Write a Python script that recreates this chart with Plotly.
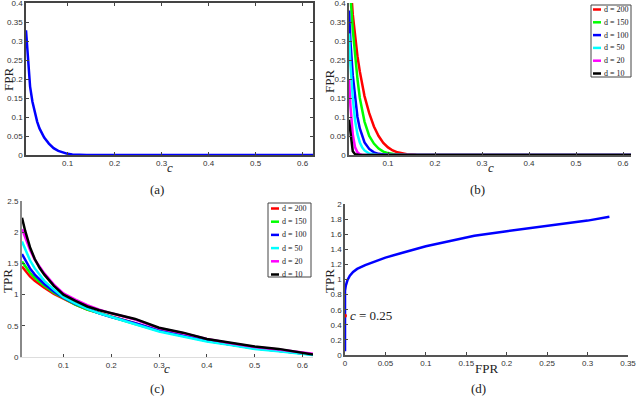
import plotly.graph_objects as go

# ---------------- data ----------------
# (a) FPR vs c
c_a = [0.0113, 0.014, 0.017, 0.02, 0.025, 0.03, 0.035, 0.04, 0.05, 0.06, 0.07, 0.08,
       0.09, 0.1, 0.11, 0.12, 0.14, 0.2, 0.3, 0.4, 0.5, 0.622]
fpr_a = [0.328, 0.276, 0.22, 0.18, 0.14, 0.11, 0.088, 0.07, 0.046, 0.03, 0.018, 0.011,
         0.006, 0.003, 0.0015, 0.0007, 0.0002, 0, 0, 0, 0, 0]

# (b) FPR vs c for several d
d_labels = ["d = 200", "d = 150", "d = 100", "d = 50", "d = 20", "d = 10"]
d_colors = ["#ff0000", "#00ff00", "#0000ff", "#00ffff", "#ff00ff", "#000000"]
c_b = [0.017, 0.02, 0.025, 0.03, 0.035, 0.04, 0.045, 0.05, 0.06, 0.07, 0.08, 0.09,
       0.1, 0.11, 0.12, 0.14, 0.16, 0.18, 0.2, 0.3, 0.4, 0.5, 0.617]
fpr_b = [
    [0.55, 0.46, 0.37, 0.31, 0.26, 0.22, 0.185, 0.155, 0.11, 0.075, 0.05, 0.032,
     0.02, 0.012, 0.007, 0.002, 0.0005, 0, 0, 0, 0, 0, 0],
    [0.5, 0.42, 0.33, 0.26, 0.2, 0.15, 0.115, 0.088, 0.05, 0.03, 0.017, 0.009,
     0.005, 0.002, 0.001, 0, 0, 0, 0, 0, 0, 0, 0],
    [0.38, 0.3, 0.21, 0.146, 0.1, 0.07, 0.048, 0.033, 0.016, 0.007, 0.003, 0.001,
     0, 0, 0, 0, 0, 0, 0, 0, 0, 0, 0],
    [0.32, 0.24, 0.15, 0.09, 0.055, 0.033, 0.02, 0.012, 0.004, 0.001, 0, 0,
     0, 0, 0, 0, 0, 0, 0, 0, 0, 0, 0],
    [0.2, 0.13, 0.055, 0.02, 0.007, 0.002, 0, 0, 0, 0, 0, 0,
     0, 0, 0, 0, 0, 0, 0, 0, 0, 0, 0],
    [0.093, 0.055, 0.01, 0.002, 0, 0, 0, 0, 0, 0, 0, 0,
     0, 0, 0, 0, 0, 0, 0, 0, 0, 0, 0],
]

# (c) TPR vs c for several d
c_c = [0.0133, 0.02, 0.03, 0.04, 0.05, 0.06, 0.08, 0.1, 0.125, 0.15, 0.175, 0.2,
       0.25, 0.3, 0.35, 0.4, 0.45, 0.5, 0.55, 0.6, 0.622]
tpr_c = [
    [1.45, 1.38, 1.29, 1.22, 1.16, 1.11, 1.01, 0.93, 0.84, 0.76, 0.70, 0.65,
     0.54, 0.42, 0.34, 0.26, 0.20, 0.14, 0.10, 0.06, 0.04],
    [1.53, 1.45, 1.35, 1.27, 1.20, 1.14, 1.03, 0.94, 0.84, 0.76, 0.70, 0.64,
     0.53, 0.42, 0.34, 0.26, 0.20, 0.14, 0.10, 0.06, 0.04],
    [1.65, 1.55, 1.42, 1.32, 1.24, 1.17, 1.05, 0.95, 0.85, 0.77, 0.70, 0.64,
     0.54, 0.42, 0.34, 0.26, 0.20, 0.14, 0.10, 0.06, 0.04],
    [1.85, 1.72, 1.55, 1.42, 1.31, 1.22, 1.08, 0.96, 0.86, 0.77, 0.70, 0.64,
     0.53, 0.41, 0.33, 0.25, 0.19, 0.13, 0.09, 0.05, 0.03],
    [2.05, 1.92, 1.72, 1.56, 1.44, 1.34, 1.16, 1.02, 0.92, 0.83, 0.76, 0.70,
     0.60, 0.46, 0.38, 0.29, 0.22, 0.16, 0.12, 0.07, 0.05],
    [2.23, 2.02, 1.76, 1.57, 1.43, 1.32, 1.14, 1.00, 0.90, 0.81, 0.75, 0.70,
     0.61, 0.47, 0.39, 0.29, 0.23, 0.17, 0.13, 0.07, 0.04],
]

# (d) ROC: TPR vs FPR
fpr_d = [0, 0, 0, 0, 0.001, 0.003, 0.006, 0.01, 0.015, 0.025, 0.04, 0.05, 0.07,
         0.1, 0.13, 0.16, 0.2, 0.25, 0.3, 0.327]
tpr_d = [0.05, 0.5, 0.75, 0.85, 0.92, 0.99, 1.05, 1.10, 1.14, 1.19, 1.25, 1.29, 1.35,
         1.44, 1.51, 1.58, 1.64, 1.71, 1.78, 1.83]
mark_fpr = [0]
mark_tpr = [0.52]
mark_text = "<i>c</i> = 0.25"

# ---------------- figure ----------------
W, H = 636, 397
LW = 2.5
fig = go.Figure()

fig.add_trace(go.Scatter(x=c_a, y=fpr_a, mode="lines", line=dict(color="#0000ff", width=LW),
                         xaxis="x", yaxis="y", showlegend=False))
for lab, col, ys in zip(d_labels, d_colors, fpr_b):
    fig.add_trace(go.Scatter(x=c_b, y=ys, mode="lines", name=lab, line=dict(color=col, width=LW),
                             xaxis="x2", yaxis="y2", showlegend=False))
for lab, col, ys in zip(d_labels, d_colors, tpr_c):
    fig.add_trace(go.Scatter(x=c_c, y=ys, mode="lines", name=lab, line=dict(color=col, width=LW),
                             xaxis="x3", yaxis="y3", showlegend=False))
fig.add_trace(go.Scatter(x=fpr_d, y=tpr_d, mode="lines", line=dict(color="#0000ff", width=LW),
                         xaxis="x4", yaxis="y4", showlegend=False))
fig.add_trace(go.Scatter(x=mark_fpr, y=mark_tpr, mode="markers", marker=dict(color="#ff0000", size=4),
                         xaxis="x4", yaxis="y4", showlegend=False))

tickfont = dict(family="Liberation Sans, Arial, sans-serif", size=8, color="#333")
serif = "Liberation Serif, Times New Roman, serif"


def ax(domain, rng, dtick, anchor, linecolor="#555", linewidth=1.5, mirror=False, tickcolor="#444"):
    return dict(domain=domain, range=rng, dtick=dtick, anchor=anchor, showgrid=False, zeroline=False,
                showline=True, linecolor=linecolor, linewidth=linewidth, mirror=mirror,
                ticks="inside", ticklen=3, tickcolor=tickcolor, tickwidth=1, tickfont=tickfont,
                automargin=False, ticklabeloverflow="allow")


def px(x):
    return x / W


def py(y):
    return 1 - y / H


fig.update_layout(
    width=W, height=H, margin=dict(l=0, r=0, t=0, b=0),
    paper_bgcolor="white", plot_bgcolor="white", showlegend=False,
    xaxis=ax([px(26), px(313)], [0.0113, 0.622], 0.1, "y", mirror="ticks", linecolor="#444"),
    yaxis=ax([py(155), py(3)], [0, 0.4], 0.05, "x", mirror="ticks", linecolor="#444"),
    xaxis2=ax([px(349), px(631)], [0.017, 0.617], 0.1, "y2"),
    yaxis2=ax([py(155), py(3)], [0, 0.4], 0.05, "x2"),
    xaxis3=ax([px(22), px(313)], [0.0133, 0.622], 0.1, "y3", linecolor="#ddd", linewidth=1),
    yaxis3=ax([py(357), py(201)], [0, 2.5], 0.5, "x3", linecolor="#888", linewidth=2),
    xaxis4=ax([px(345), px(628)], [0, 0.35], 0.05, "y4"),
    yaxis4=ax([py(355), py(204)], [0, 2], 0.2, "x4"),
)

ann = []
shapes = []


def txt(x, y, t, size=13, angle=0, xanchor="center"):
    ann.append(dict(x=px(x), y=py(y), xref="paper", yref="paper", text=t, showarrow=False,
                    xanchor=xanchor, yanchor="middle", textangle=angle,
                    font=dict(family=serif, size=size, color="#222")))


txt(9, 80, "FPR", 13, -90)
txt(329, 82, "FPR", 13, -90)
txt(7, 281, "TPR", 13, -90)
txt(329, 281, "TPR", 13, -90)
txt(170, 167, "<i>c</i>", 13)
txt(491, 167, "<i>c</i>", 13)
txt(167, 368, "<i>c</i>", 13)
txt(486, 368, "FPR", 13)
txt(157, 189, "(a)", 13)
txt(477, 189, "(b)", 13)
txt(157, 388, "(c)", 13)
txt(478, 388, "(d)", 13)
ann.append(dict(x=mark_fpr[0], y=mark_tpr[0], xref="x4", yref="y4", text=mark_text, showarrow=False,
                xanchor="left", yanchor="middle", xshift=3,
                font=dict(family=serif, size=13, color="#222")))


# compact MATLAB-style legends built from the series labels/colours
def legend_box(x0, y0, x1, y1, first_y, step, sx0, sx1, tx):
    shapes.append(dict(type="rect", xref="paper", yref="paper", x0=px(x0), x1=px(x1),
                       y0=py(y1), y1=py(y0), line=dict(color="#444", width=1),
                       fillcolor="white", layer="above"))
    for i, (lab, col) in enumerate(zip(d_labels, d_colors)):
        yy = first_y + i * step
        shapes.append(dict(type="line", xref="paper", yref="paper", x0=px(sx0), x1=px(sx1),
                           y0=py(yy), y1=py(yy), line=dict(color=col, width=2.5), layer="above"))
        txt(tx, yy, lab, 8, 0, "left")


legend_box(591, 5, 631, 77, 9.5, 12.8, 593, 601, 602)
legend_box(268, 203, 311, 277, 208.5, 13.2, 271, 279, 280)

fig.update_layout(annotations=ann, shapes=shapes)

fig.write_html("out.html")
